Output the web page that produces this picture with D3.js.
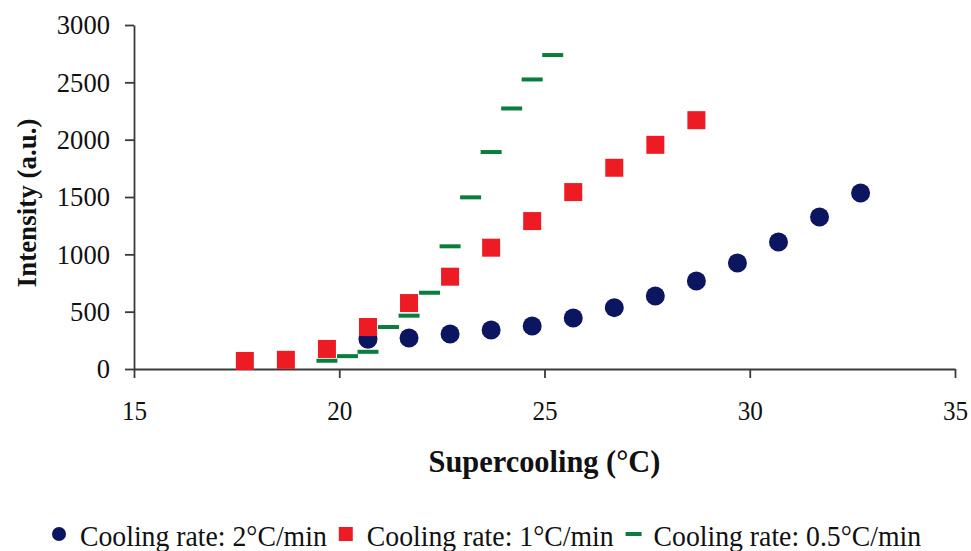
<!DOCTYPE html>
<html>
<head>
<meta charset="utf-8">
<script src="https://cdn.jsdelivr.net/npm/d3@7"></script>
<style>
body { margin: 0; background: #fff; }
svg text { font-family: "Liberation Serif", "Times New Roman", serif; fill: #111; }
.sq { transform-box: fill-box; }
</style>
</head>
<body>
<svg id="main_svg" width="971" height="551"></svg>
<script>
// data
var blueX = [20.7, 21.7, 22.7, 23.7, 24.7, 25.7, 26.7, 27.7, 28.7, 29.7, 30.7, 31.7, 32.7];
var blueY = [260, 270, 305, 340, 375, 445, 535, 637, 767, 925, 1108, 1325, 1535];
var redX = [17.7, 18.7, 19.7, 20.7, 21.7, 22.7, 23.7, 24.7, 25.7, 26.7, 27.7, 28.7];
var redY = [70, 80, 175, 366, 575, 805, 1058, 1290, 1543, 1755, 1955, 2170];
var greenX = [19.7, 20.2, 20.7, 21.2, 21.7, 22.2, 22.7, 23.2, 23.7, 24.2, 24.7, 25.2];
var greenY = [72, 112, 150, 366, 465, 665, 1070, 1497, 1892, 2272, 2525, 2738];
var xTicks = [15, 20, 25, 30, 35];
var yTicks = [0, 500, 1000, 1500, 2000, 2500, 3000];
var seriesNames = ['Cooling rate: 2\u00B0C/min', 'Cooling rate: 1\u00B0C/min', 'Cooling rate: 0.5\u00B0C/min'];

var blue = '#0c1660', red = '#ed1c24', green = '#0a7d3c', axisColor = '#3a3a3a';
var serif = '"Liberation Serif", "Times New Roman", serif';

var svg = d3.select('#main_svg');

var x = d3.scaleLinear().domain([15, 35]).range([134, 955]);
var y = d3.scaleLinear().domain([0, 3000]).range([369, 25]);

function squeeze(sel, s, origin) {
	sel.classed('sq', true)
		.style('transform-origin', origin)
		.style('transform', 'scaleX(' + s + ')');
}

// axes
var yAxis = svg.append('g')
	.attr('transform', 'translate(' + x.range()[0] + ',0)')
	.call(d3.axisLeft(y).tickValues(yTicks).tickFormat(d3.format('d'))
		.tickSize(9).tickSizeOuter(0).tickPadding(15));
var xAxis = svg.append('g')
	.attr('transform', 'translate(0,' + y(0) + ')')
	.call(d3.axisBottom(x).tickValues(xTicks).tickFormat(d3.format('d'))
		.tickSize(9).tickSizeOuter(0).tickPadding(22));

[yAxis, xAxis].forEach(function(a){
	a.attr('font-family', serif);
	a.select('.domain').attr('stroke', axisColor).attr('stroke-width', 1.8);
	a.selectAll('.tick line').attr('stroke', axisColor).attr('stroke-width', 1.8);
	a.selectAll('.tick text').attr('font-size', 28).attr('fill', '#111');
});
squeeze(yAxis.selectAll('.tick text'), 0.95, 'right center');
squeeze(xAxis.selectAll('.tick text'), 0.9, 'center');

// axis titles
var xTitle = svg.append('text')
	.attr('x', (x.range()[0] + x.range()[1]) / 2)
	.attr('y', 472)
	.attr('text-anchor', 'middle')
	.attr('font-size', 31)
	.attr('font-weight', 'bold')
	.text('Supercooling (\u00B0C)');
squeeze(xTitle, 0.98, 'center');

svg.append('text')
	.attr('transform', 'translate(36,203) rotate(-90)')
	.attr('text-anchor', 'middle')
	.attr('font-size', 27)
	.attr('font-weight', 'bold')
	.text('Intensity (a.u.)');

// points
var blueData = blueX.map(function(d, i){ return {x: d, y: blueY[i]}; });
var redData = redX.map(function(d, i){ return {x: d, y: redY[i]}; });
var greenData = greenX.map(function(d, i){ return {x: d, y: greenY[i]}; });

svg.append('g')
	.selectAll('circle')
	.data(blueData)
	.enter()
	.append('circle')
	.attr('fill', blue)
	.attr('cx', function(d){ return x(d.x); })
	.attr('cy', function(d){ return y(d.y); })
	.attr('r', 9.5);

svg.append('g')
	.selectAll('rect')
	.data(redData)
	.enter()
	.append('rect')
	.attr('fill', red)
	.attr('x', function(d){ return x(d.x) - 9; })
	.attr('y', function(d){ return y(d.y) - 9; })
	.attr('width', 18)
	.attr('height', 18);

svg.append('g')
	.selectAll('rect')
	.data(greenData)
	.enter()
	.append('rect')
	.attr('fill', green)
	.attr('x', function(d){ return x(d.x) - 10.5; })
	.attr('y', function(d){ return y(d.y) - 2; })
	.attr('width', 21)
	.attr('height', 4);

// legend
var legend = svg.append('g');
var lx = 52, ly = 534, ls = 0.925;
seriesNames.forEach(function(name, i){
	if (i == 0) {
		legend.append('circle').attr('cx', lx + 7).attr('cy', ly).attr('r', 7).attr('fill', blue);
	} else if (i == 1) {
		legend.append('rect').attr('x', lx).attr('y', ly - 7).attr('width', 14).attr('height', 14).attr('fill', red);
	} else {
		legend.append('rect').attr('x', lx).attr('y', ly - 2).attr('width', 16).attr('height', 4).attr('fill', green);
	}
	var t = legend.append('text')
		.attr('x', lx + 28)
		.attr('y', ly + 12)
		.attr('font-size', 30)
		.text(name);
	squeeze(t, ls, 'left center');
	var w = t.node().getComputedTextLength() * ls;
	lx = lx + 28 + w + 12;
});
</script>
</body>
</html>
